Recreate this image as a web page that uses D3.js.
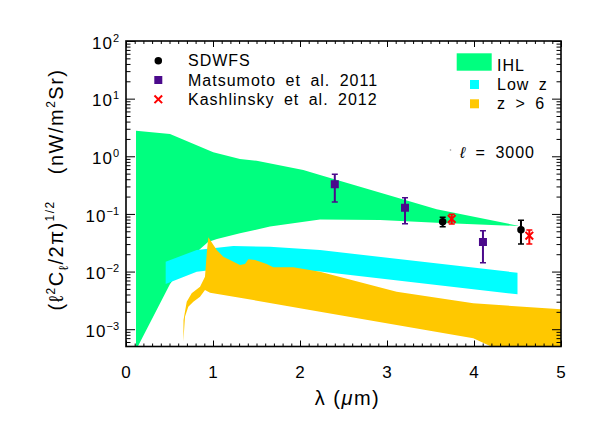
<!DOCTYPE html>
<html lang="en">
<head>
<meta charset="UTF-8">
<script src="https://d3js.org/d3.v7.min.js"></script>
<title>IHL fluctuations</title>
<style>
  body { margin: 0; background: #fff; }
  text { font-family: "Liberation Sans", Arial, Helvetica, sans-serif; fill: #000; }
  .lbl { font-size: 16px; letter-spacing: 1px; word-spacing: 4px; }
  .axis text { font-size: 17px; letter-spacing: 1px; }
  .axis line { stroke: #000; stroke-width: 1; }
  .axis path { display: none; }
  .title { font-size: 20px; letter-spacing: 1.5px; }
</style>
</head>
<body>
<script>
// IHL band (green)
const ihlUpperX = [0.115, 0.506, 1.003, 1.31, 1.502, 2.038, 2.23, 3.571, 4.506];
const ihlUpperY = [2.78, 2.44, 1.17, 0.897, 0.838, 0.578, 0.473, 0.120, 0.0625];
const ihlLowerX = [0.115, 0.506, 0.736, 0.943, 1.046, 1.31, 1.655, 2.23, 2.92, 3.571, 4.506];
const ihlLowerY = [4.35e-4, 6.08e-3, 0.0172, 0.0326, 0.0367, 0.0461, 0.0605, 0.080, 0.0783, 0.0704, 0.0617];

// Low z band (cyan)
const lowzX = [0.456, 0.813, 1.233, 1.655, 2.23, 4.50];
const lowzUpper = [0.01483, 0.02366, 0.0277, 0.0270, 0.02366, 0.00955];
const lowzLower = [0.00608, 0.00996, 0.01175, 0.01153, 0.01003, 0.00403];

// z > 6 band (yellow)
const hizUpperX = [0.659, 0.661, 0.698, 0.755, 0.851, 0.908, 0.928, 0.946, 1.043, 1.118, 1.195, 1.310, 1.368, 1.406, 1.483, 1.617, 1.693, 1.923, 2.230, 3.111, 3.992, 5.0];
const hizUpperY = [6.07e-4, 1.445e-3, 3.0e-3, 4.2e-3, 5.46e-3, 8.15e-3, 0.0207, 0.0393, 0.0237, 0.0181, 0.0159, 0.0130, 0.0135, 0.0163, 0.0159, 0.0135, 0.01186, 0.01186, 0.00996, 0.00448, 0.00281, 0.00221];
const hizLowerX = [0.659, 0.678, 0.716, 0.774, 0.851, 0.908, 0.966, 1.463, 2.230, 3.992, 4.184, 5.0];
const hizLowerY = [6.07e-4, 1.65e-3, 2.46e-3, 3.0e-3, 3.66e-3, 4.79e-3, 4.30e-3, 3.21e-3, 2.01e-3, 6.95e-4, 5.12e-4, 1.42e-4];

// measurements
const sdwfsX = [3.640, 4.540];
const sdwfsY = [0.0733, 0.0532];
const sdwfsLo = [0.060, 0.0301];
const sdwfsHi = [0.0874, 0.0775];

const matsX = [2.40, 3.207, 4.103];
const matsY = [0.327, 0.128, 0.0326];
const matsLo = [0.161, 0.0676, 0.01426];
const matsHi = [0.487, 0.191, 0.0512];

const kashX = [3.744, 4.636];
const kashY = [0.0817, 0.0419];
const kashLo = [0.0668, 0.0301];
const kashHi = [0.0985, 0.0526];

const xTicks = [0, 1, 2, 3, 4, 5];
const yTicks = [1e-3, 1e-2, 1e-1, 1, 10, 100];
const yExp = ["\u22123", "\u22122", "\u22121", "0", "1", "2"];
const pointNames = ["SDWFS", "Matsumoto et al. 2011", "Kashlinsky et al. 2012"];
const bandNames = ["IHL", "Low z", "z > 6"];

const GREEN = "#00ff7f", CYAN = "#00ffff", GOLD = "#ffc800", PURPLE = "#4b0a8c", RED = "#ff0000";

const margin = {top: 41, left: 126, right: 38, bottom: 81.5};
const W = 599, H = 428;
const width = W - margin.left - margin.right;
const height = H - margin.top - margin.bottom;

const svg = d3.select("body").append("svg").attr("width", W).attr("height", H);
const g = svg.append("g").attr("transform", `translate(${margin.left},${margin.top})`);

const x = d3.scaleLinear().domain([0, 5]).range([0, width]);
const y = d3.scaleLog().domain([Math.pow(10, -3.3), 100]).range([height, 0]);

svg.append("defs").append("clipPath").attr("id", "plotclip")
  .append("rect").attr("width", width).attr("height", height);

const plot = g.append("g").attr("clip-path", "url(#plotclip)");

const poly = d3.line().x(d => x(d[0])).y(d => y(d[1])).curve(d3.curveLinearClosed);
function band(ux, uy, lx, ly) {
  const up = ux.map((v, i) => [v, uy[i]]);
  const lo = lx.map((v, i) => [v, ly[i]]).reverse();
  return up.concat(lo);
}

plot.append("path").attr("d", poly(band(ihlUpperX, ihlUpperY, ihlLowerX, ihlLowerY))).attr("fill", GREEN);
plot.append("path").attr("d", poly(band(lowzX, lowzUpper, lowzX, lowzLower))).attr("fill", CYAN);
plot.append("path").attr("d", poly(band(hizUpperX, hizUpperY, hizLowerX, hizLowerY))).attr("fill", GOLD);

// error bars + markers
function errorBars(xs, lo, hi, color) {
  const eb = plot.append("g").attr("stroke", color).attr("fill", "none");
  xs.forEach((v, i) => {
    eb.append("line").attr("x1", x(v)).attr("x2", x(v)).attr("y1", y(lo[i])).attr("y2", y(hi[i])).attr("stroke-width", 2);
    [lo[i], hi[i]].forEach(c => {
      eb.append("line").attr("x1", x(v) - 3).attr("x2", x(v) + 3).attr("y1", y(c)).attr("y2", y(c)).attr("stroke-width", 1.5);
    });
  });
}
errorBars(matsX, matsLo, matsHi, PURPLE);
errorBars(sdwfsX, sdwfsLo, sdwfsHi, "#000");
errorBars(kashX, kashLo, kashHi, RED);

const sq = d3.symbol(d3.symbolSquare).size(64);
const circ = d3.symbol(d3.symbolCircle).size(44);
const cross = d3.symbol(d3.symbolX).size(40);

plot.selectAll(".mats").data(matsX.map((v, i) => [v, matsY[i]])).join("path")
  .attr("d", sq).attr("fill", PURPLE)
  .attr("transform", d => `translate(${x(d[0])},${y(d[1])})`);
plot.selectAll(".sdwfs").data(sdwfsX.map((v, i) => [v, sdwfsY[i]])).join("path")
  .attr("class", "sdwfs").attr("d", circ).attr("fill", "#000")
  .attr("transform", d => `translate(${x(d[0])},${y(d[1])})`);
plot.selectAll(".kash").data(kashX.map((v, i) => [v, kashY[i]])).join("path")
  .attr("class", "kash").attr("d", cross).attr("fill", "none").attr("stroke", RED).attr("stroke-width", 2)
  .attr("transform", d => `translate(${x(d[0])},${y(d[1])})`);

// axes, IDL style: ticks inside on all four sides
const xMinor = d3.range(0, 50).map(i => i / 10).filter(v => v % 1 !== 0);
const yMinor = [];
for (let e = -4; e <= 1; e++) for (let m = 2; m <= 9; m++) {
  const v = m * Math.pow(10, e);
  if (v >= y.domain()[0] && v <= 100) yMinor.push(v);
}

g.append("g").attr("class", "axis").attr("transform", `translate(0,${height})`)
  .call(d3.axisBottom(x).tickValues(xTicks).tickSize(-6).tickPadding(19).tickFormat(d3.format("d")));
g.append("g").attr("class", "axis").attr("transform", `translate(0,${height})`)
  .call(d3.axisBottom(x).tickValues(xMinor).tickSize(-3).tickFormat(""));
g.append("g").attr("class", "axis")
  .call(d3.axisTop(x).tickValues(xTicks).tickSize(-6).tickFormat(""));
g.append("g").attr("class", "axis")
  .call(d3.axisTop(x).tickValues(xMinor).tickSize(-3).tickFormat(""));

const yAxisG = g.append("g").attr("class", "axis")
  .call(d3.axisLeft(y).tickValues(yTicks).tickSize(-9).tickPadding(7).tickFormat(""));
g.append("g").attr("class", "axis")
  .call(d3.axisLeft(y).tickValues(yMinor).tickSize(-4.5).tickFormat(""));
g.append("g").attr("class", "axis").attr("transform", `translate(${width},0)`)
  .call(d3.axisRight(y).tickValues(yTicks).tickSize(-9).tickFormat(""));
g.append("g").attr("class", "axis").attr("transform", `translate(${width},0)`)
  .call(d3.axisRight(y).tickValues(yMinor).tickSize(-4.5).tickFormat(""));

yAxisG.selectAll(".tick text").attr("dy", "0.42em").each(function(d, i) {
  const t = d3.select(this);
  t.append("tspan").text("10");
  t.append("tspan").attr("dy", -7).attr("font-size", 11).attr("letter-spacing", 0).text(yExp[i]);
});

g.append("rect").attr("width", width).attr("height", height)
  .attr("fill", "none").attr("stroke", "#000").attr("stroke-width", 1.6);

// axis titles
const xt = svg.append("text").attr("class", "title").attr("text-anchor", "middle")
  .attr("x", margin.left + width / 2 + 4).attr("y", 405);
xt.append("tspan").text("\u03bb (");
xt.append("tspan").attr("font-style", "italic").text("\u03bc");
xt.append("tspan").text("m)");

const yt = svg.append("text").attr("class", "title").attr("text-anchor", "middle")
  .attr("transform", "translate(63,189.5) rotate(-90)");
yt.append("tspan").text("(\u2113");
yt.append("tspan").attr("dy", -8).attr("font-size", 12).text("2");
yt.append("tspan").attr("dy", 8).text("C");
yt.append("tspan").attr("dy", 5).attr("font-size", 13).text("\u2113");
yt.append("tspan").attr("dy", -5).text("/2\u03c0)");
yt.append("tspan").attr("dy", -9).attr("font-size", 12).text("1/2");
yt.append("tspan").attr("dy", 9).attr("dx", 26).text("(nW/m");
yt.append("tspan").attr("dy", -8).attr("font-size", 12).text("2");
yt.append("tspan").attr("dy", 8).text("Sr)");

// legend: measurements
const leg = svg.append("g");
const legRows = [60.7, 80, 99.3];
leg.append("path").attr("d", circ).attr("fill", "#000").attr("transform", `translate(158.3,${legRows[0]})`);
leg.append("path").attr("d", sq).attr("fill", PURPLE).attr("transform", `translate(158.3,${legRows[1]})`);
leg.append("path").attr("d", cross).attr("fill", "none").attr("stroke", RED).attr("stroke-width", 2)
  .attr("transform", `translate(158.3,${legRows[2]})`);
pointNames.forEach((n, i) => {
  leg.append("text").attr("class", "lbl").attr("x", 188).attr("y", legRows[i] + 5.5).text(n);
});

// legend: bands
leg.append("rect").attr("x", 456.7).attr("y", 53.3).attr("width", 35).attr("height", 17.4).attr("fill", GREEN);
leg.append("rect").attr("x", 470).attr("y", 80).attr("width", 9).attr("height", 9).attr("fill", CYAN);
leg.append("rect").attr("x", 470).attr("y", 99.3).attr("width", 9).attr("height", 9).attr("fill", GOLD);
[70.7, 90.2, 109.3].forEach((b, i) => {
  leg.append("text").attr("class", "lbl").attr("x", 497).attr("y", b).text(bandNames[i]);
});

svg.append("circle").attr("cx", 450.5).attr("cy", 150).attr("r", 0.8).attr("fill", "#999");
const ell = svg.append("text").attr("class", "lbl").attr("x", 460).attr("y", 158);
ell.append("tspan").attr("font-style", "italic").text("\u2113");
ell.append("tspan").text(" = 3000");
</script>
</body>
</html>
